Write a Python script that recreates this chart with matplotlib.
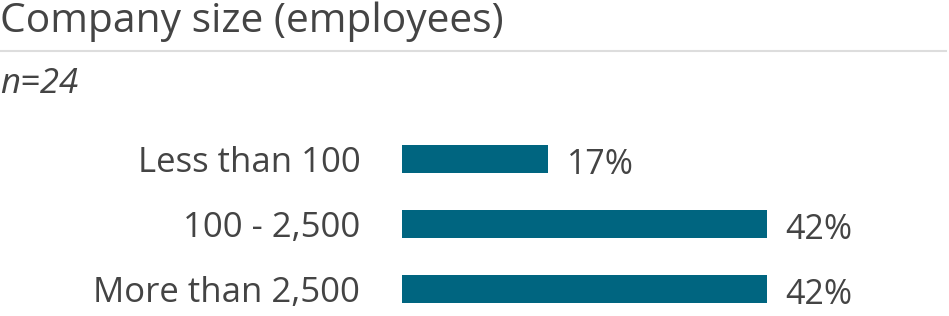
import matplotlib.pyplot as plt

plt.rcParams['font.family'] = ['Open Sans', 'DejaVu Sans']

# data
categories = ["Less than 100", "100 - 2,500", "More than 2,500"]
shares = [16.7, 41.7, 41.7]
value_labels = ["17%", "42%", "42%"]
title = "Company size (employees)"
subtitle = "n=24"

W, H = 949, 316
bar_color = "#006580"
text_color = "#444444"

fig = plt.figure(figsize=(W / 100, H / 100), dpi=100)

# axes spans the bar area; full figure height so rows sit at fixed pixel rows
left_px = 402
ax = fig.add_axes([left_px / W, 0, (W - left_px) / W, 1])
ax.barh(range(len(categories)), shares, height=28 / 65, color=bar_color)
ax.set_xlim(0, (W - left_px) / 365 * 41.7)
ax.set_ylim((H - 159) / 65, -159 / 65)

ax.set_yticks(range(len(categories)))
ax.set_yticklabels(categories, fontsize=25, color=text_color)
ax.tick_params(axis="y", length=0, pad=30)
ax.set_xticks([])
for s in ax.spines.values():
    s.set_visible(False)
ax.patch.set_alpha(0)

# value labels
for i, (v, lab) in enumerate(zip(shares, value_labels)):
    ax.annotate(lab, (v, i), xytext=(13.5, -4), textcoords="offset points",
                ha="left", va="center", fontsize=24.5, color=text_color)

# header
fig.text(0, 1 - 22 / H, title, fontsize=29.3, color=text_color, va="center", ha="left")
fig.add_artist(plt.Line2D([0, 946 / W], [1 - 51 / H, 1 - 51 / H],
                          color="#dddddd", linewidth=1.5, transform=fig.transFigure))
fig.text(0, 1 - 84 / H, subtitle, fontsize=25, style="italic", color=text_color,
         va="center", ha="left")

fig.savefig("out.png", dpi=100)
